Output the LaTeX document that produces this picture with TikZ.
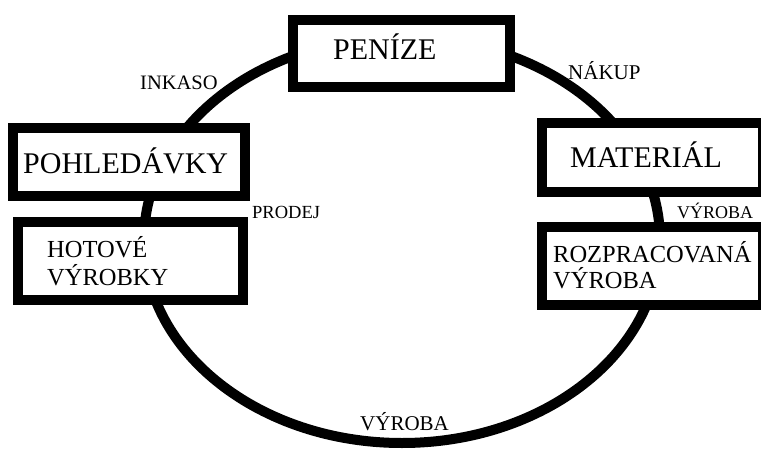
\documentclass[tikz,border=0pt]{standalone}
\usepackage{fontspec}
\setmainfont{Liberation Serif}
\begin{document}
\begin{tikzpicture}[x=1pt,y=-1pt,
  boxnode/.style={draw=black,fill=white,line width=10pt,rectangle,inner sep=0pt},
  txt/.style={anchor=base west,inner sep=0pt,text=black},
  big/.style={txt,font=\fontsize{30}{34}\selectfont},
  mid/.style={txt,font=\fontsize{24.5}{28}\selectfont},
]
\clip (0,0) rectangle (761,452);
\fill[white] (0,0) rectangle (761,452);
% cycle
\draw[line width=10pt] (402,240) ellipse [x radius=258, y radius=203];
% boxes
\node[boxnode,minimum width=217pt,minimum height=67pt] (penize) at (401.5,53.5) {};
\node[boxnode,minimum width=232pt,minimum height=68pt] (pohl) at (129,162) {};
\node[boxnode,minimum width=225pt,minimum height=78pt] (hotove) at (130.5,261) {};
\node[boxnode,minimum width=221pt,minimum height=69pt] (mat) at (652.5,157.5) {};
\node[boxnode,minimum width=221pt,minimum height=78pt] (rozpr) at (652.5,266) {};
% box texts
\node[big] (tpenize) at (333,60) {PENÍZE};
\node[big] (tpohl) at (23,173) {POHLEDÁVKY};
\node[big] (tmat) at (570,167) {MATERIÁL};
\node[mid] (thot1) at (47,257) {HOTOVÉ};
\node[mid] (thot2) at (47,285) {VÝROBKY};
\node[mid] (troz1) at (553,262) {ROZPRACOVANÁ};
\node[mid] (troz2) at (553,288) {VÝROBA};
% labels
\node[txt,font=\fontsize{18.5}{20}\selectfont] (lprodej) at (252,218) {PRODEJ};
\node[txt,font=\fontsize{18}{20}\selectfont] (lvyr1) at (677,218) {VÝROBA};
\node[txt,font=\fontsize{20.5}{22}\selectfont] (linkaso) at (140,89) {INKASO};
\node[txt,font=\fontsize{21}{22}\selectfont] (lnakup) at (568,80) {NÁKUP};
\node[txt,font=\fontsize{21}{22}\selectfont] (lvyr2) at (360,430) {VÝROBA};
\end{tikzpicture}
\end{document}
